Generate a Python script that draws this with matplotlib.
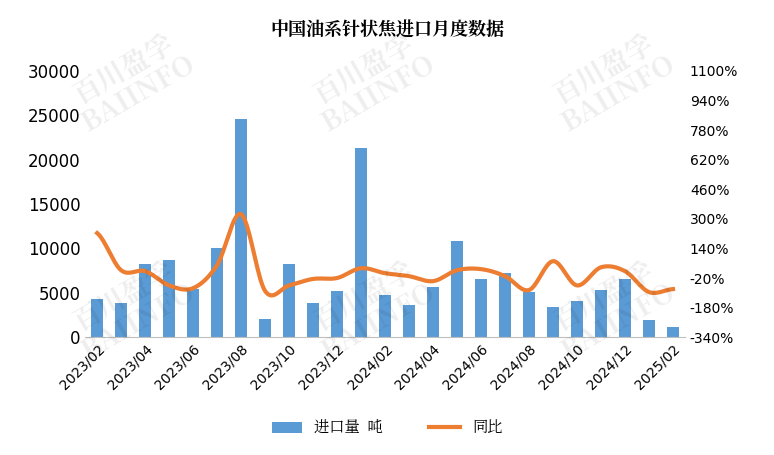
import numpy as np
import matplotlib
matplotlib.use("Agg")
import matplotlib.pyplot as plt
from matplotlib import font_manager as fm

cjk = None
for f in fm.findSystemFonts():
    if "CJK" in f and ("Regular" in f or "Bold" in f):
        cjk = f
        if "Regular" in f:
            break
names = []
if cjk:
    fm.fontManager.addfont(cjk)
    names.append(fm.FontProperties(fname=cjk).get_name())
plt.rcParams["font.family"] = ["DejaVu Sans"] + names + ["Noto Sans CJK SC"]
zh = names + ["Noto Sans CJK SC"]

months = ["2023/02","2023/03","2023/04","2023/05","2023/06","2023/07","2023/08","2023/09","2023/10","2023/11","2023/12",
          "2024/01","2024/02","2024/03","2024/04","2024/05","2024/06","2024/07","2024/08","2024/09","2024/10","2024/11","2024/12",
          "2025/01","2025/02"]
volume = [4300,3900,8200,8700,5400,10000,24600,2100,8300,3800,5200,
          21300,4700,3600,5700,10800,6500,7200,5100,3400,4100,5300,6500,1900,1100]
yoy = [223,22,17,-60,-75,50,325,-90,-60,-25,-20,
       33,6,-10,-37,22,28,-10,-85,71,-60,38,17,-96,-80]

fig = plt.figure(figsize=(7.74,4.55), dpi=100)
ax = fig.add_axes([0.11, 0.259, 0.775, 0.585])
x = np.arange(len(months))
ax.bar(x, volume, width=0.5, color="#5b9bd5", label="进口量  吨", zorder=2)
ax.set_ylim(0, 30000)
ax.set_yticks(range(0, 30001, 5000))
ax.set_xlim(-0.5, len(months)-0.5)
ax.set_xticks(x[::2])
ax.set_xticklabels(months[::2], rotation=45, ha="right", rotation_mode="anchor", fontsize=10)
ax.tick_params(axis="y", labelsize=12, length=0)
ax.tick_params(axis="x", length=0)
for s in ["top","right","left"]:
    ax.spines[s].set_visible(False)
ax.spines["bottom"].set_color("#bfbfbf")

ax2 = ax.twinx()
p = np.array(yoy, float)
pts = np.concatenate([[p[0]], p, [p[-1]]])
xs, ys = [], []
for i in range(len(p)-1):
    p0,p1,p2,p3 = pts[i],pts[i+1],pts[i+2],pts[i+3]
    t = np.linspace(0,1,20)
    ys.append(0.5*((2*p1)+(-p0+p2)*t+(2*p0-5*p1+4*p2-p3)*t**2+(-p0+3*p1-3*p2+p3)*t**3))
    xs.append(i+t)
ax2.plot(np.concatenate(xs), np.concatenate(ys), color="#ed7d31", lw=3, label="同比", zorder=3)
ax2.set_ylim(-340, 1100)
ax2.set_yticks(range(-340, 1101, 160))
ax2.set_yticklabels([f"{v}%" for v in range(-340, 1101, 160)], fontsize=10)
ax2.tick_params(axis="y", length=0)
for s in ["top","right","left","bottom"]:
    ax2.spines[s].set_visible(False)

for (wx, wy) in [(0.17,0.82),(0.48,0.82),(0.79,0.82),(0.17,0.32),(0.48,0.32),(0.79,0.32)]:
    fig.text(wx, wy, "百川盈孚\nBAIINFO", rotation=30, fontsize=20, color="#000000", alpha=0.07,
             ha="center", va="center", fontweight="bold", linespacing=0.9, family=zh)

fig.suptitle("中国油系针状焦进口月度数据", y=0.955, fontsize=13, fontweight="bold", family=zh)
h1,l1 = ax.get_legend_handles_labels()
h2,l2 = ax2.get_legend_handles_labels()
fig.legend(h1+h2, l1+l2, loc="lower center", bbox_to_anchor=(0.5, 0.01), ncol=2, frameon=False,
           prop={"family": zh, "size": 11}, columnspacing=3)
fig.savefig("out.png", dpi=100)
